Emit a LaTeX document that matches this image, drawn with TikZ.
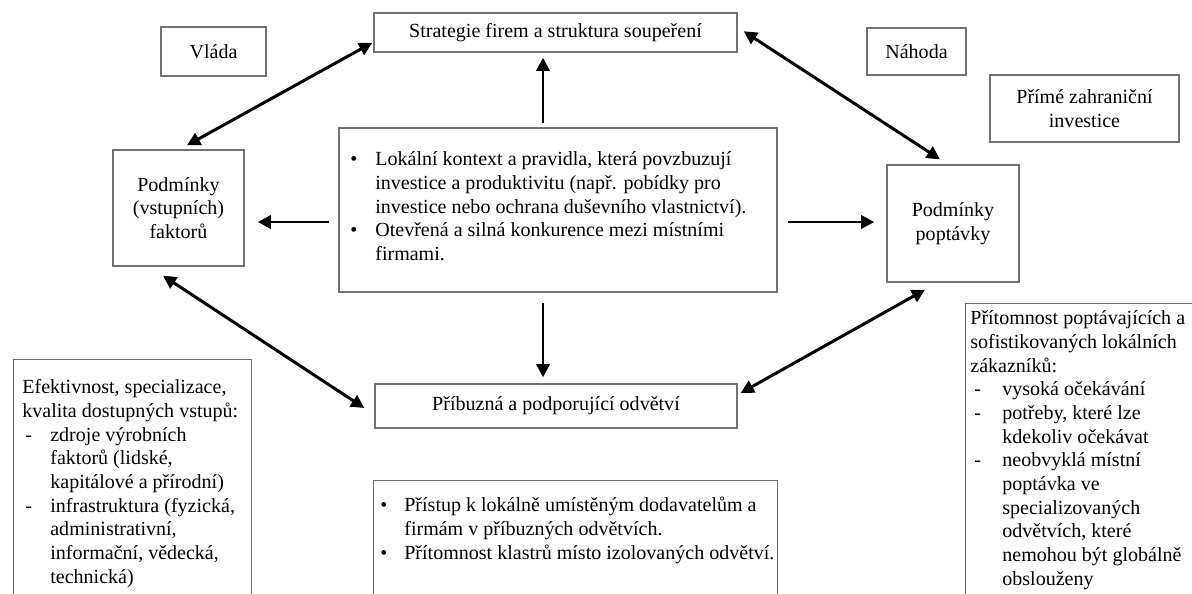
\documentclass[tikz,border=0pt]{standalone}
\usepackage{fontspec}
\setmainfont{Liberation Serif}
\usetikzlibrary{arrows.meta,calc}
\newlength\pxu \setlength\pxu{0.2mm}
\newcommand\bodyfont{\fontsize{11.4pt}{13.46pt}\selectfont}
\begin{document}
\begin{tikzpicture}[x=0.2mm,y=-0.2mm,
  every node/.style={font=\bodyfont},
  box/.style={draw=black!55,line width=0.8pt,inner sep=0pt,align=center},
  txt/.style={inner sep=0pt,anchor=north west,align=left},
  arr/.style={line width=1.7pt,-{Triangle[length=7.5pt,width=7.5pt]}},
  darr/.style={line width=1.7pt,{Triangle[length=7.5pt,width=7.5pt]}-{Triangle[length=7.5pt,width=7.5pt]}}]
\useasboundingbox (0,0) rectangle (1192,594);

% boxes
\node[box,minimum width=72.6mm,minimum height=7.8mm] (strat) at (555.5,32.5) {Strategie firem a struktura soupeření};
\node[box,minimum width=21mm,minimum height=9.8mm] (vlada) at (213.5,51.5) {Vláda};
\node[box,minimum width=19.8mm,minimum height=9.4mm] (nahoda) at (916.5,51.5) {Náhoda};
\node[box,minimum width=37.8mm,minimum height=13.4mm] (pzi) at (1084.5,108.5) {Přímé zahraniční\\investice};
\node[box,minimum width=26.2mm,minimum height=23.2mm] (fakt) at (178.5,208) {Podmínky\\(vstupních)\\faktorů};
\node[box,minimum width=26.4mm,minimum height=23.4mm] (popt) at (953,223.5) {Podmínky\\poptávky};
\node[box,minimum width=87.6mm,minimum height=32.8mm] (central) at (558,210) {};
\node[box,minimum width=72.4mm,minimum height=8.8mm] (pribuz) at (556,406) {Příbuzná a podporující odvětví};

% partially visible boxes
\node[box,anchor=north west,minimum width=47.6mm,minimum height=52mm] (efekt) at (13,359) {};
\node[box,anchor=north west,minimum width=52mm,minimum height=64mm] (pritom) at (965,303) {};
\node[box,anchor=north west,minimum width=80.8mm,minimum height=30mm] (pristup) at (373,480) {};

% texts
\node[txt] (ctext) at (350,149) {\begin{tabular}{@{}p{25\pxu}@{}l@{}}
\textbullet & Lokální kontext a pravidla, která povzbuzují\\
 & investice a produktivitu (např. pobídky pro\\
 & investice nebo ochrana duševního vlastnictví).\\
\textbullet & Otevřená a silná konkurence mezi místními\\
 & firmami.
\end{tabular}};

\node[txt] (etext) at (22,377) {\begin{tabular}{@{}p{28\pxu}@{}l@{}}
\multicolumn{2}{@{}l@{}}{Efektivnost, specializace,}\\
\multicolumn{2}{@{}l@{}}{kvalita dostupných vstupů:}\\
\hspace*{3\pxu}- & zdroje výrobních\\
 & faktorů (lidské,\\
 & kapitálové a přírodní)\\
\hspace*{3\pxu}- & infrastruktura (fyzická,\\
 & administrativní,\\
 & informační, vědecká,\\
 & technická)
\end{tabular}};

\node[txt] (ptext) at (970,308) {\begin{tabular}{@{}p{32\pxu}@{}l@{}}
\multicolumn{2}{@{}l@{}}{Přítomnost poptávajících a}\\
\multicolumn{2}{@{}l@{}}{sofistikovaných lokálních}\\
\multicolumn{2}{@{}l@{}}{zákazníků:}\\
\hspace*{4\pxu}- & vysoká očekávání\\
\hspace*{4\pxu}- & potřeby, které lze\\
 & kdekoliv očekávat\\
\hspace*{4\pxu}- & neobvyklá místní\\
 & poptávka ve\\
 & specializovaných\\
 & odvětvích, které\\
 & nemohou být globálně\\
 & obslouženy
\end{tabular}};

\node[txt] (btext) at (380,495) {\begin{tabular}{@{}p{24\pxu}@{}l@{}}
\textbullet & Přístup k lokálně umístěným dodavatelům a\\
 & firmám v příbuzných odvětvích.\\
\textbullet & Přítomnost klastrů místo izolovaných odvětví.
\end{tabular}};

% arrows
\draw[darr] ($(strat.south west)+(-1,-10)$) -- ($(fakt.north)+(8.5,-4)$);
\draw[darr] ($(strat.north east)+(6,19)$) -- ($(popt.north)+(-13,-5)$);
\draw[darr] ($(fakt.south)+(-15.5,9)$) -- ($(pribuz.west)+(-10,2)$);
\draw[darr] ($(pribuz.east)+(3,-13)$) -- ($(popt.south)+(-28,7)$);
\draw[arr] ($(central.north)+(-15,-4)$) -- ($(strat.south)+(-12.5,5)$);
\draw[arr] ($(central.south)+(-15,10)$) -- ($(pribuz.north)+(-13,-6)$);
\draw[arr] ($(central.west)+(-9,12)$) -- ($(fakt.east)+(13,14)$);
\draw[arr] ($(central.east)+(10,12)$) -- ($(popt.west)+(-12,-1.5)$);
\end{tikzpicture}
\end{document}
